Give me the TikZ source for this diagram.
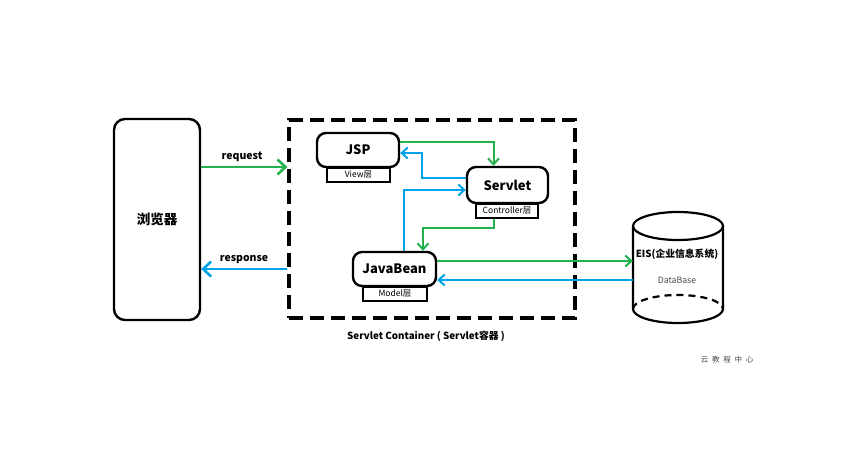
\documentclass[tikz,border=0pt]{standalone}
\usepackage{fontspec}
\setmainfont{Noto Sans CJK SC}
\usetikzlibrary{arrows.meta}
\definecolor{flowgreen}{RGB}{34,177,76}
\definecolor{flowblue}{RGB}{0,162,232}
\definecolor{marktext}{RGB}{70,70,70}
\begin{document}
\begin{tikzpicture}[x=1pt,y=-1pt,
  outline/.style={draw=black,line width=2.4pt},
  layerbox/.style={outline,rounded corners=9pt,inner sep=0pt,font=\bfseries\fontsize{13}{15}\selectfont},
  tagbox/.style={draw=black,line width=1.8pt,inner sep=0pt,minimum height=14pt,font=\fontsize{8.5}{10}\selectfont},
  fwd/.style={draw=flowgreen,line width=2pt,-{Straight Barb[length=6pt,width=11pt,line width=2pt]}},
  back/.style={draw=flowblue,line width=2pt,-{Straight Barb[length=6pt,width=11pt,line width=2pt]}},
  bigfwd/.style={draw=flowgreen,line width=2.6pt,-{Straight Barb[length=8pt,width=15pt,line width=2.6pt]}},
  bigback/.style={draw=flowblue,line width=2.6pt,-{Straight Barb[length=8pt,width=15pt,line width=2.6pt]}},
  flowlabel/.style={font=\bfseries\fontsize{10.5}{12}\selectfont}
]
\useasboundingbox (0,0) rectangle (856,459);

% browser
\node[outline,rounded corners=11pt,minimum width=86pt,minimum height=201pt,
      font=\bfseries\fontsize{13.5}{15}\selectfont] (browser) at (157,219.5) {浏览器};

% servlet container
\node[draw=black,line width=3.2pt,dash pattern=on 14pt off 7pt,
      minimum width=286pt,minimum height=198pt] (box) at (432,219) {};
\node[font=\bfseries\fontsize{9.8}{11}\selectfont] (boxcap) at (426,336)
  {Servlet Container ( Servlet容器 )};

% layers
\node[layerbox,minimum width=82pt,minimum height=34pt] (jsp) at (358,150) {JSP};
\node[tagbox,minimum width=63pt,anchor=north] (view) at (358.5,167) {View层};
\node[layerbox,minimum width=81pt,minimum height=36pt] (servlet) at (507.5,185) {Servlet};
\node[tagbox,minimum width=62pt,anchor=north] (ctrl) at (507,203) {Controller层};
\node[layerbox,minimum width=83pt,minimum height=34pt] (jb) at (394.5,269) {JavaBean};
\node[tagbox,minimum width=64pt,anchor=north] (model) at (395,286) {Model层};

% database cylinder
\node[minimum width=90pt,minimum height=83pt,inner sep=0pt] (db) at (678,267) {};
\draw[line width=2.2pt] (678,226) ellipse [x radius=45, y radius=14];
\draw[line width=2.2pt] (633,226) -- (633,309) arc[start angle=180,end angle=360,x radius=45,y radius=-14] -- (723,226);
\draw[line width=2.2pt,dash pattern=on 7pt off 5pt] (633,309) arc[start angle=180,end angle=0,x radius=45,y radius=-14];
\node[font=\bfseries\fontsize{9.8}{11}\selectfont,inner sep=0pt] (eis) at (677,254) {EIS(企业信息系统)};
\node[font=\fontsize{8.7}{10}\selectfont,text=marktext] (dbname) at (677,280) {DataBase};

% request / response
\draw[bigfwd] ([yshift=52.5pt]browser.east) coordinate (rq) -- (rq -| box.west);
\node[flowlabel] (rqlabel) at (242,157) {request};
\draw[bigback] ([yshift=-49.5pt]browser.east -| box.west) coordinate (rs) -- (rs -| browser.east);
\node[flowlabel] (rslabel) at (244,260) {response};

% controller wiring
\coordinate (k1) at (422,153);
\coordinate (k2) at (423,228);
\draw[fwd] ([yshift=8pt]jsp.east) -| ([xshift=-14pt]servlet.north);
\draw[back] ([yshift=7pt]servlet.west) -| (k1) -- ([yshift=-3pt]jsp.east);
\draw[back] ([xshift=9.5pt]jb.north) |- ([yshift=-5pt]servlet.west);
\draw[fwd] ([xshift=-13pt]ctrl.south) |- (k2) -- ([xshift=28.5pt]jb.north);

% model <-> database
\draw[fwd] ([yshift=8pt]jb.east) coordinate (g1) -- (g1 -| db.west);
\draw[back] ([yshift=-11pt]jb.east -| db.west) coordinate (b1) -- (b1 -| jb.east);

% mark
\node[font=\fontsize{7.5}{9}\selectfont,text=marktext] (mark) at (727,360) {云\enspace 教\enspace 程\enspace 中\enspace 心};
\end{tikzpicture}
\end{document}
